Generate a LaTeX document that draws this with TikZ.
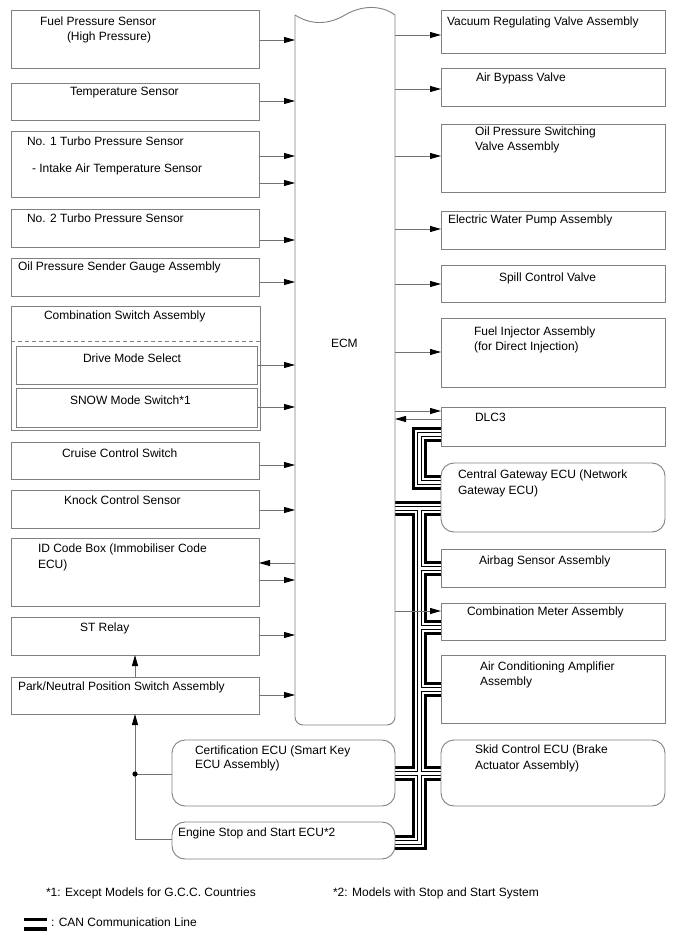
\documentclass[tikz,border=0pt]{standalone}
\usepackage{fontspec}
\setmainfont{Liberation Sans}
\usetikzlibrary{arrows.meta,fit}
\definecolor{boxgray}{gray}{0.5}
\definecolor{linegray}{gray}{0.45}
\newcommand\canroutes[1]{%
  \draw[#1] (dlc.west |- 0,434) -- (419.5,434) -- (419.5,482) -- (cgw.west |- 0,482);
  \draw[#1] (ecm.east |- 0,508) -- (cgw.west |- 0,508);
  \draw[#1] (419.5,508) -- (419.5,842) -- (ess.east |- 0,842);
  \draw[#1] (419.5,568) -- (abs.west |- 0,568);
  \draw[#1] (419.5,627) -- (cma.west |- 0,627);
  \draw[#1] (419.5,689) -- (aca.west |- 0,689);
  \draw[#1] (cert.east |- 0,773) -- (skid.west |- 0,773);
}
\begin{document}
\begin{tikzpicture}[x=1pt,y=-1pt,
  box/.style={draw=boxgray, line width=0.9pt, inner sep=0pt, outer sep=0pt, fit={#1}},
  rbox/.style={box={#1}, rounded corners=13pt},
  area/.style={inner sep=0pt, outer sep=0pt, fit={#1}},
  txt/.style={anchor=base west, inner sep=0pt, outer sep=0pt, font=\fontsize{12}{14}\selectfont},
  arr/.style={draw=linegray, line width=0.8pt, -{Triangle[length=11pt,width=6pt,color=black]}},
  conn/.style={draw=linegray, line width=0.8pt},
  canline/.style={line join=miter, line cap=butt}
]
\useasboundingbox (0,0) rectangle (688,949);

% ---------- nodes (areas) ----------
\node[area={(295,8) (395,725)}] (ecm) {};
\node[area={(11,10) (259,68)}] (fps) {};
\node[area={(11,83) (259,120)}] (temp) {};
\node[area={(11,131) (259,197)}] (tps1) {};
\node[area={(11,209) (259,247)}] (tps2) {};
\node[area={(11,258) (259,296)}] (oil) {};
\node[area={(11,306) (260,430)}] (comb) {};
\node[area={(16,346) (257,384)}] (dms) {};
\node[area={(16,388) (257,427)}] (snow) {};
\node[area={(11,442) (259,479)}] (cruise) {};
\node[area={(11,490) (259,528)}] (knock) {};
\node[area={(11,538) (259,606)}] (idc) {};
\node[area={(11,617) (259,655)}] (st) {};
\node[area={(11,677) (259,714)}] (pnp) {};
\node[area={(172,740) (395,806)}] (cert) {};
\node[area={(172,822) (395,859)}] (ess) {};
\node[area={(441,10) (665,53)}] (vrv) {};
\node[area={(441,68) (665,106)}] (abv) {};
\node[area={(441,124) (665,192)}] (opsv) {};
\node[area={(441,211) (665,249)}] (ewp) {};
\node[area={(441,265) (665,302)}] (scv) {};
\node[area={(441,318) (665,387)}] (fia) {};
\node[area={(441,407) (665,446)}] (dlc) {};
\node[area={(441,463) (665,532)}] (cgw) {};
\node[area={(441,549) (665,587)}] (abs) {};
\node[area={(441,603) (665,640)}] (cma) {};
\node[area={(441,655) (665,723)}] (aca) {};
\node[area={(441,740) (665,806)}] (skid) {};

% ---------- CAN bus ----------
\begin{scope}[canline]
\canroutes{black, line width=15pt}
\canroutes{white, line width=9pt}
\canroutes{black, line width=5pt}
\canroutes{white, line width=3pt}
\end{scope}

% ---------- box outlines ----------
\foreach \n in {fps,temp,tps1,tps2,oil,comb,dms,snow,cruise,knock,idc,st,pnp,
                vrv,abv,opsv,ewp,scv,fia,dlc,abs,cma,aca}
  \draw[draw=boxgray, line width=0.9pt] (\n.north west) rectangle (\n.south east);
\foreach \n in {cert,ess,cgw,skid}
  \draw[draw=boxgray, line width=0.9pt, rounded corners=13pt] (\n.north west) rectangle (\n.south east);
\draw[boxgray, line width=0.9pt, dash pattern=on 4pt off 3pt] (comb.west |- 0,341) -- (comb.east |- 0,341);

% ECM outline
\draw[boxgray, line width=0.9pt] (295,15) .. controls (312,26) and (330,24) .. (345,15)
      .. controls (360,6) and (380,4) .. (395,15);
\draw[boxgray, line width=0.9pt, rounded corners=8pt] (395,15) -- (395,725) -- (295,725) -- (295,15);

% ---------- connectors left ----------
\foreach \n/\y in {fps/40, temp/101, tps1/156, tps1/183, tps2/240, oil/282, dms/365,
                   snow/407, cruise/465, knock/510, idc/580, st/635, pnp/695}
  \draw[arr] (\n.east |- 0,\y) -- (ecm.west |- 0,\y);
\draw[arr] (ecm.west |- 0,563) -- (idc.east |- 0,563);
\draw[arr] (pnp.north) -- (st.south);
\coordinate (jn) at (135,774);
\coordinate (bend) at (135,839);
\draw[arr] (ess.west |- bend) -- (bend) -- (pnp.south);
\draw[conn] (jn) -- (cert.west |- jn);
\fill (jn) circle (2.6pt);

% ---------- connectors right ----------
\foreach \n/\y in {vrv/35, abv/89, opsv/156, ewp/229, scv/284, fia/352, dlc/411, cma/611}
  \draw[arr] (ecm.east |- 0,\y) -- (\n.west |- 0,\y);
\draw[arr] (dlc.west |- 0,419) -- (ecm.east |- 0,419);

% ---------- texts ----------
\node[txt] (t01) at (40,26) {Fuel Pressure Sensor};
\node[txt] (t02) at (67,41) {(High Pressure)};
\node[txt] (t03) at (70,96) {Temperature Sensor};
\node[txt] (t04) at (27,146) {No. 1 Turbo Pressure Sensor};
\node[txt] (t05) at (32,173) {- Intake Air Temperature Sensor};
\node[txt] (t06) at (27,223) {No. 2 Turbo Pressure Sensor};
\node[txt] (t07) at (18,271) {Oil Pressure Sender Gauge Assembly};
\node[txt] (t08) at (44,319) {Combination Switch Assembly};
\node[txt] (t09) at (83,362) {Drive Mode Select};
\node[txt] (t10) at (70,404) {SNOW Mode Switch*1};
\node[txt] (t11) at (62,457) {Cruise Control Switch};
\node[txt] (t12) at (64,504) {Knock Control Sensor};
\node[txt] (t13) at (38,552) {ID Code Box (Immobiliser Code};
\node[txt] (t14) at (38,568) {ECU)};
\node[txt] (t15) at (80,631) {ST Relay};
\node[txt] (t16) at (18,690) {Park/Neutral Position Switch Assembly};
\node[txt] (t17) at (195,754) {Certification ECU (Smart Key};
\node[txt] (t18) at (195,768) {ECU Assembly)};
\node[txt] (t19) at (178,836) {Engine Stop and Start ECU*2};
\node[txt] (t20) at (331,347) {ECM};
\node[txt] (t21) at (447,26) {Vacuum Regulating Valve Assembly};
\node[txt] (t22) at (476,82) {Air Bypass Valve};
\node[txt] (t23) at (475,136) {Oil Pressure Switching};
\node[txt] (t24) at (475,151) {Valve Assembly};
\node[txt] (t25) at (448,224) {Electric Water Pump Assembly};
\node[txt] (t26) at (499,281) {Spill Control Valve};
\node[txt] (t27) at (474,335) {Fuel Injector Assembly};
\node[txt] (t28) at (474,350) {(for Direct Injection)};
\node[txt] (t29) at (475,421) {DLC3};
\node[txt] (t30) at (458,478) {Central Gateway ECU (Network};
\node[txt] (t31) at (458,494) {Gateway ECU)};
\node[txt] (t32) at (479,564) {Airbag Sensor Assembly};
\node[txt] (t33) at (467,615) {Combination Meter Assembly};
\node[txt] (t34) at (480,670) {Air Conditioning Amplifier};
\node[txt] (t35) at (480,685) {Assembly};
\node[txt] (t36) at (475,753) {Skid Control ECU (Brake};
\node[txt] (t37) at (475,769) {Actuator Assembly)};
\node[txt] (t38) at (46,896) {*1: Except Models for G.C.C. Countries};
\node[txt] (t39) at (333,896) {*2: Models with Stop and Start System};
\node[txt] (t40) at (51,926) {: CAN Communication Line};

% legend symbol
\coordinate (lg1) at (24,919.5);
\coordinate (lg2) at (47,919.5);
\coordinate (lg3) at (24,929);
\coordinate (lg4) at (47,929);
\draw[black, line width=3.5pt] (lg1) -- (lg2);
\draw[black, line width=3.5pt] (lg3) -- (lg4);
\end{tikzpicture}
\end{document}
